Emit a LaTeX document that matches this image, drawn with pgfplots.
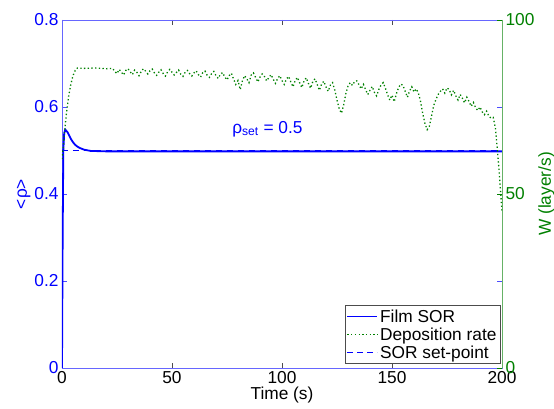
\documentclass[border=0pt]{standalone}
\usepackage{fontspec}
\setmainfont{Liberation Sans}
\usepackage{pgfplots}
\pgfplotsset{compat=1.18}
\definecolor{mblue}{rgb}{0,0,1}
\definecolor{mgreen}{rgb}{0,0.5,0}
\begin{document}
\begin{tikzpicture}
\pgfplotsset{every axis/.append style={
  width=440pt, height=348pt, scale only axis,
  font=\fontsize{17.3}{20}\selectfont,
  /pgf/number format/assume math mode=true,
  tick align=inside, major tick length=5pt,
}}
\begin{axis}[
  xmin=0, xmax=200, ymin=0, ymax=0.8,
  xtick={0,50,100,150,200},
  ytick={0,0.2,0.4,0.6,0.8},
  yticklabel style={text=mblue, /pgf/number format/fixed, /pgf/number format/precision=1},
  ytick style={mblue!70},
  xtick style={black!70},
  x axis line style={black!60},
  y axis line style={mblue!60},
  xlabel={Time (s)},
  ylabel={\textless ρ\textgreater},
  ylabel style={text=mblue, yshift=-3pt},
  xlabel style={yshift=4pt},
]
\coordinate (SW) at (rel axis cs:0,0);
\addplot[mblue, line width=1.8pt] coordinates {
(0,0) (0.3,0.3) (0.6,0.5) (1,0.54) (1.5,0.548) (2.5,0.542) (4,0.527) (5,0.519) (6,0.513) (7,0.509) (8,0.506) (10,0.502) (13,0.499) (20,0.498) (200,0.498)};
\addplot[mblue, line width=1.6pt, dash pattern=on 6pt off 5pt] coordinates {(0,0.5) (200,0.5)};
\node[anchor=base west, text=mblue, inner sep=0pt] at (axis cs:77.3,0.540) {ρ\textsubscript{set} = 0.5};
\end{axis}
\begin{axis}[
  xmin=0, xmax=200, ymin=0, ymax=100,
  axis x line=none, axis y line*=right,
  ytick={0,50,100},
  yticklabel style={text=mgreen},
  ytick style={mgreen},
  y axis line style={mgreen!60},
  ylabel={W (layer/s)},
  ylabel style={text=mgreen},
  ylabel shift=-3pt,
  legend style={at={(0.997,0.012)}, anchor=south east, draw=black!70, fill=white,
    font=\fontsize{17.3}{20}\selectfont, inner sep=2pt, row sep=0pt,
    legend cell align=left},
  legend image post style={},
  legend image code/.code={\draw[#1] (0pt,0pt) -- (30pt,0pt);},
]
\addlegendimage{mblue, line width=1.2pt}
\addlegendentry{Film SOR}
\addplot[mgreen, line width=1.3pt, dash pattern=on 1.3pt off 2.4pt] coordinates {
(0,60) (0.5,63) (1,67) (2,73) (3,78) (4,81.5) (5,84) (6,85.5) (7,86.2) (10,86.1) (15,86.2) (20,86.0) (23,86.1)
(24,85.2) (25,84.6) (26,85.8) (27,85.0) (28,84.2) (29,85.5) (30,86.0) (31,85.1) (32,84.3) (33,85.6) (34,85.0)
(35,84.0) (36,85.2) (37,86.0) (38,85.3) (39,84.5) (40,85.4) (41,85.9) (42,84.8) (43,84.1) (44,85.0) (45,85.7)
(46,84.6) (47,83.9) (48,85.1) (49,85.8) (50,85.0) (51,84.2) (52,84.9) (53,85.6) (54,84.4) (55,83.8) (56,85.0)
(57,85.5) (58,84.6) (59,83.9) (60,84.8) (61,85.4) (62,84.3) (63,83.6) (64,84.9) (65,85.3) (66,84.1) (67,83.5)
(68,84.6) (69,85.2) (70,84.0) (71,83.2) (72,84.4) (73,84.9) (74,83.6) (75,82.8) (76,84.0) (77,84.7) (78,83.0)
(79,81.5) (80,82.6) (81,80.0) (82,82.5) (83,84.0) (84,83.1) (85,82.0) (86,84.2) (87,84.8) (88,83.5) (89,82.2)
(90,83.6) (91,84.5) (92,83.8) (93,82.5) (94,83.4) (95,84.3) (96,83.0) (97,81.8) (98,83.2) (99,84.0) (100,82.6)
(101,81.5) (102,83.0) (103,83.8) (104,82.2) (105,80.8) (106,82.6) (107,83.5) (108,82.0) (109,80.6) (110,82.4)
(111,83.4) (112,81.8) (113,80.4) (114,82.3) (115,83.1) (116,81.5) (117,79.8) (118,81.6) (119,82.4) (120,80.8)
(121,79.5) (122,81.3) (123,82.0) (124,79.8) (125,77.0) (126,74.5) (127,73.2) (128,75.5) (129,78.8) (130,81.0)
(131,82.0) (132,81.2) (133,82.3) (134,82.5) (135,81.4) (136,80.2) (137,81.5) (138,80.0) (139,78.6) (140,79.8)
(141,80.9) (142,79.2) (143,78.2) (144,80.0) (145,81.3) (146,82.0) (147,80.4) (148,78.5) (149,77.0) (150,78.4)
(151,76.5) (152,78.8) (153,80.6) (154,81.6) (155,81.2) (156,79.5) (157,77.8) (158,79.6) (159,80.8) (160,79.3)
(161,80.2) (162,79.0) (163,76.5) (164,73.0) (165,70.2) (166,68.5) (167,69.5) (168,72.5) (169,75.5) (170,77.2)
(171,78.6) (172,79.5) (173,80.2) (174,79.0) (175,80.5) (176,80.0) (177,78.5) (178,79.8) (179,78.2) (180,77.0)
(181,78.6) (182,77.5) (183,76.2) (184,77.8) (185,76.6) (186,75.2) (187,76.3) (188,74.8) (189,74.0) (190,75.0)
(191,73.6) (192,72.8) (193,73.8) (194,72.4) (195,71.8) (196,72.0) (197,69.0) (198,62.0) (199,54.0) (200,45.0)};
\addlegendentry{Deposition rate}
\addlegendimage{mblue, line width=1.2pt, dash pattern=on 6pt off 4pt}
\addlegendentry{SOR set-point}
\end{axis}
\pgfresetboundingbox
\path (SW) ++(-62pt,-41pt) rectangle ++(554pt,409pt);
\end{tikzpicture}
\end{document}
